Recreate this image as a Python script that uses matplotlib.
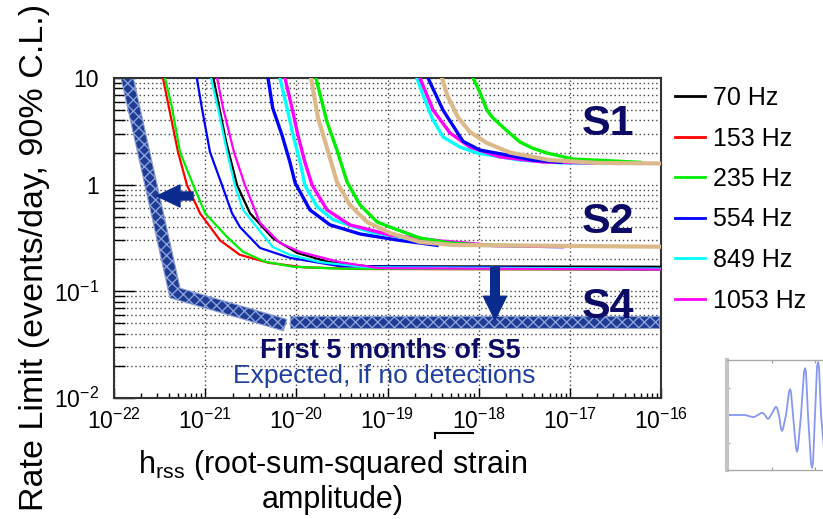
import numpy as np
import matplotlib
matplotlib.use("Agg")
import matplotlib.pyplot as plt
from matplotlib.lines import Line2D
from matplotlib.patches import Polygon, FancyArrowPatch, ArrowStyle

plt.rcParams['font.family'] = ['Liberation Sans', 'DejaVu Sans']
plt.rcParams['mathtext.fontset'] = 'custom'
plt.rcParams['mathtext.rm'] = 'Liberation Sans'
plt.rcParams['mathtext.it'] = 'Liberation Sans:italic'
plt.rcParams['mathtext.bf'] = 'Liberation Sans:bold'
plt.rcParams['hatch.linewidth'] = 1.0

# ---------------- data ----------------
# S4 run (lowest plateau)
s4_70_h = [1.23e-21, 1.7e-21, 2.24e-21, 3.1e-21, 5.5e-21, 1.02e-20, 2.3e-20, 6e-20, 1e-16]
s4_70_r = [10, 2.51, 0.99, 0.54, 0.316, 0.229, 0.188, 0.172, 0.17]
s4_153_h = [3.44e-22, 5.04e-22, 6.32e-22, 8.77e-22, 1.46e-21, 2.4e-21, 5e-21, 1.2e-20, 5e-20, 1e-16]
s4_153_r = [10, 2.02, 0.99, 0.54, 0.30, 0.22, 0.185, 0.168, 0.162, 0.16]
s4_235_h = [3.63e-22, 4.33e-22, 5.3e-22, 7.4e-22, 1.0e-21, 1.74e-21, 2.6e-21, 4.5e-21, 9.2e-21, 3e-20, 1e-16]
s4_235_r = [10, 5.24, 2.02, 0.99, 0.54, 0.323, 0.235, 0.19, 0.17, 0.163, 0.16]
s4_554_h = [8.1e-22, 9.2e-22, 1.13e-21, 1.53e-21, 1.97e-21, 2.41e-21, 4.0e-21, 8.5e-21, 3.0e-20, 1e-16]
s4_554_r = [10, 5.24, 2.02, 0.99, 0.54, 0.40, 0.255, 0.206, 0.172, 0.163]
s4_849_h = [1.16e-21, 1.38e-21, 1.74e-21, 2.12e-21, 2.6e-21, 5.5e-21, 8.5e-21, 1.8e-20, 6e-20, 1e-16]
s4_849_r = [10, 5.24, 2.02, 0.99, 0.58, 0.26, 0.22, 0.188, 0.168, 0.163]
s4_1053_h = [1.35e-21, 1.57e-21, 2.07e-21, 2.73e-21, 3.99e-21, 6.6e-21, 1.1e-20, 3.0e-20, 8e-20, 1e-16]
s4_1053_r = [10, 5.24, 2.02, 0.99, 0.44, 0.284, 0.234, 0.188, 0.165, 0.16]

# S2 run
s2_554_h = [4.89e-21, 5.5e-21, 6.96e-21, 8.5e-21, 9.7e-21, 1.41e-20, 2.34e-20, 5.0e-20, 1.38e-19, 3.5e-19]
s2_554_r = [10, 5.24, 2.92, 1.63, 1.04, 0.58, 0.42, 0.345, 0.30, 0.27]
s2_849_h = [6.6e-21, 7.9e-21, 9.2e-21, 1.1e-20, 1.24e-20, 1.69e-20, 2.52e-20, 6.4e-20, 2.3e-19, 1e-18, 8e-18]
s2_849_r = [10, 5.24, 2.92, 1.63, 0.99, 0.62, 0.47, 0.36, 0.30, 0.27, 0.262]
s2_1053_h = [7.5e-21, 8.96e-21, 1.04e-20, 1.24e-20, 1.49e-20, 2.17e-20, 3.87e-20, 1.07e-19, 3.77e-19, 1.5e-18, 8.4e-18]
s2_1053_r = [10, 5.24, 2.92, 1.63, 0.99, 0.58, 0.42, 0.337, 0.297, 0.268, 0.262]
s2_235_h = [1.64e-20, 2.17e-20, 2.79e-20, 3.6e-20, 5.0e-20, 7.7e-20, 1.07e-19, 2.27e-19, 4.8e-19, 1.04e-18, 3e-18]
s2_235_r = [10, 3.87, 2.11, 1.06, 0.645, 0.447, 0.40, 0.316, 0.284, 0.272, 0.268]
s2_tan_h = [1.45e-20, 1.73e-20, 2.17e-20, 2.79e-20, 3.87e-20, 5.96e-20, 1.07e-19, 2.27e-19, 5.2e-19, 1e-16]
s2_tan_r = [10, 4.22, 2.21, 1.06, 0.645, 0.447, 0.352, 0.29, 0.272, 0.262]

# S1 run
s1_849_h = [2.10e-19, 2.45e-19, 3.08e-19, 4.06e-19, 6.24e-19, 9.6e-19, 2.84e-18, 8e-18, 2.5e-17]
s1_849_r = [10, 6.93, 4.22, 2.80, 2.25, 1.98, 1.70, 1.60, 1.58]
s1_1053_h = [2.27e-19, 3.16e-19, 4.85e-19, 8.03e-19, 1.71e-18, 5.07e-18, 3.5e-17]
s1_1053_r = [10, 5.01, 3.05, 2.25, 1.82, 1.63, 1.58]
s1_554_h = [2.78e-19, 4.06e-19, 6.73e-19, 1.03e-18, 1.71e-18, 3.94e-18, 8e-18]
s1_554_r = [10, 5.01, 2.55, 2.11, 1.95, 1.70, 1.62]
s1_235_h = [8.67e-19, 1.03e-18, 1.23e-18, 1.4e-18, 2.0e-18, 2.84e-18, 3.9e-18, 5.61e-18, 1.08e-17, 5.9e-17]
s1_235_r = [10, 7.39, 5.01, 4.31, 3.25, 2.51, 2.2, 1.98, 1.74, 1.62]
s1_tan_h = [3.96e-19, 4.5e-19, 5.9e-19, 8.0e-19, 1.23e-18, 2.2e-18, 6.05e-18, 2e-17, 1e-16]
s1_tan_r = [10, 6.93, 4.31, 3.12, 2.46, 2.0, 1.70, 1.60, 1.58]

# S5 expected band (center line)
band_slope_h = [1.26e-22, 4.67e-22, 7.52e-21]
band_slope_r = [14.8, 0.0964, 0.0483]
band_flat_h = [8.5e-21, 9.6e-17]
band_flat_r = [0.0516, 0.0516]

# arrows (tail, tip)
arrow_left_h = [7.36e-22, 2.96e-22]
arrow_left_r = [0.783, 0.783]
arrow_down_h = [1.51e-18, 1.51e-18]
arrow_down_r = [0.167, 0.054]

legend_labels = ['70 Hz', '153 Hz', '235 Hz', '554 Hz', '849 Hz', '1053 Hz']
legend_colors = ['#000000', '#ff0000', '#00ee00', '#0000ff', '#00ffff', '#ff00ff']

x_ticks = [1e-22, 1e-21, 1e-20, 1e-19, 1e-18, 1e-17, 1e-16]
x_tick_labels = [r'$\mathdefault{10^{-22}}$', r'$\mathdefault{10^{-21}}$', r'$\mathdefault{10^{-20}}$',
                 r'$\mathdefault{10^{-19}}$', r'$\mathdefault{10^{-18}}$', r'$\mathdefault{10^{-17}}$',
                 r'$\mathdefault{10^{-16}}$']
y_ticks = [1e-2, 1e-1, 1, 10]
y_tick_labels = [r'$\mathdefault{10^{-2}}$', r'$\mathdefault{10^{-1}}$', '1', '10']

# inset waveform
inset_t = [0, 18, 24, 26, 28, 31, 34, 35, 36, 38, 40, 41, 42, 44, 48, 49, 50, 52, 54, 55, 56, 59,
           62, 63, 64, 66, 69, 70, 71, 74, 77, 78, 79, 81, 84, 85, 86, 88, 90, 91, 92, 94, 97]
inset_amp = [0, 0, -0.03, -0.04, -0.03, 0.0, 0.035, 0.04, 0.035, 0.0, -0.06, -0.07, -0.06, 0.0,
             0.13, 0.15, 0.13, 0.0, -0.25, -0.29, -0.25, 0.0, 0.42, 0.47, 0.42, 0.0, -0.6, -0.67,
             -0.6, 0.0, 0.78, 0.85, 0.78, 0.0, -0.88, -0.96, -0.88, 0.0, 0.88, 0.96, 0.88, 0.0, -0.6]

# ---------------- figure ----------------
W, H = 823, 519
fig = plt.figure(figsize=(W / 100, H / 100), dpi=100)
L, R, T, B = 114, 661, 78, 398
ax = fig.add_axes([L / W, 1 - B / H, (R - L) / W, (B - T) / H])
ax.set_xscale('log')
ax.set_yscale('log')
ax.set_xlim(1e-22, 1e-16)
ax.set_ylim(1e-2, 10)

ax.set_xticks(x_ticks)
ax.set_xticklabels(x_tick_labels, fontsize=16.5)
ax.set_yticks(y_ticks)
ax.set_yticklabels(y_tick_labels, fontsize=16.5)
ax.tick_params(axis='x', which='major', direction='in', length=7, width=1, pad=8, bottom=True, top=False)
ax.tick_params(axis='x', which='minor', direction='in', length=3.6, width=1, bottom=True, top=False)
ax.tick_params(axis='y', which='major', direction='in', length=15, width=1, pad=11, left=True, right=False)
ax.tick_params(axis='y', which='minor', direction='in', length=8, width=1, left=True, right=False)
ax.yaxis.set_minor_formatter(matplotlib.ticker.NullFormatter())
ax.xaxis.set_minor_formatter(matplotlib.ticker.NullFormatter())
for s in ax.spines.values():
    s.set_color('#333333')
    s.set_linewidth(1.5)
ax.grid(True, which='major', axis='both', linestyle=(0, (1, 2)), color='#444444', linewidth=1)
ax.grid(True, which='minor', axis='y', linestyle=(0, (1, 2)), color='#444444', linewidth=1)
ax.set_axisbelow(True)

# S5 expected band as hatched polygons
def band_polygon(hs, rs, half_px):
    pts = ax.transData.transform(np.column_stack([hs, rs]))
    d = np.diff(pts, axis=0)
    d = d / np.linalg.norm(d, axis=1)[:, None]
    nrm = np.column_stack([-d[:, 1], d[:, 0]])
    left, right = [], []
    n = len(pts)
    for i in range(n):
        if i == 0:
            off = nrm[0]
        elif i == n - 1:
            off = nrm[-1]
        else:
            m = nrm[i - 1] + nrm[i]
            m = m / np.linalg.norm(m)
            off = m / np.dot(m, nrm[i])
        left.append(pts[i] + off * half_px)
        right.append(pts[i] - off * half_px)
    poly = np.array(left + right[::-1])
    return ax.transData.inverted().transform(poly)

for hs, rs in [(band_slope_h, band_slope_r), (band_flat_h, band_flat_r)]:
    p = Polygon(band_polygon(hs, rs, 6.0), closed=True, facecolor='#1f3c94',
                edgecolor='#8b9fd8', hatch='xxx', linewidth=0.8, zorder=2)
    ax.add_patch(p)

c_black, c_red, c_green, c_blue, c_cyan, c_mag = legend_colors
c_tan = '#dbb98b'

# S4 curves
lw4 = 1.6
ax.plot(s4_70_h, s4_70_r, color=c_black, lw=lw4, zorder=3)
ax.plot(s4_153_h, s4_153_r, color=c_red, lw=lw4, zorder=3)
ax.plot(s4_235_h, s4_235_r, color=c_green, lw=lw4, zorder=3)
ax.plot(s4_554_h, s4_554_r, color=c_blue, lw=lw4, zorder=3)
ax.plot(s4_849_h, s4_849_r, color=c_cyan, lw=lw4, zorder=3)
ax.plot(s4_1053_h, s4_1053_r, color=c_mag, lw=lw4, zorder=3)

# S2 curves
lw2 = 2.4
ax.plot(s2_554_h, s2_554_r, color=c_blue, lw=lw2, zorder=3)
ax.plot(s2_849_h, s2_849_r, color=c_cyan, lw=lw2, zorder=3)
ax.plot(s2_1053_h, s2_1053_r, color=c_mag, lw=lw2, zorder=3)
ax.plot(s2_235_h, s2_235_r, color=c_green, lw=lw2, zorder=3)
ax.plot(s2_tan_h, s2_tan_r, color=c_tan, lw=3.0, zorder=3)

# S1 curves
ax.plot(s1_849_h, s1_849_r, color=c_cyan, lw=lw2, zorder=3)
ax.plot(s1_1053_h, s1_1053_r, color=c_mag, lw=lw2, zorder=3)
ax.plot(s1_554_h, s1_554_r, color=c_blue, lw=lw2, zorder=3)
ax.plot(s1_235_h, s1_235_r, color=c_green, lw=lw2, zorder=3)
ax.plot(s1_tan_h, s1_tan_r, color=c_tan, lw=3.0, zorder=3)

# arrows
navy_arrow = '#0b2a8e'
ax.add_patch(FancyArrowPatch((arrow_left_h[0], arrow_left_r[0]), (arrow_left_h[1], arrow_left_r[1]),
                             arrowstyle=ArrowStyle.Simple(head_length=1.66, head_width=1.58, tail_width=0.58),
                             mutation_scale=10, color=navy_arrow, shrinkA=0, shrinkB=0, zorder=5))
ax.add_patch(FancyArrowPatch((arrow_down_h[0], arrow_down_r[0]), (arrow_down_h[1], arrow_down_r[1]),
                             arrowstyle=ArrowStyle.Simple(head_length=1.7, head_width=1.66, tail_width=0.62),
                             mutation_scale=10, color=navy_arrow, shrinkA=0, shrinkB=0, zorder=5))

# run labels
navy = '#0c0c66'
def axfrac(px, py):
    return (px - L) / (R - L), (B - py) / (B - T)
for txt, py in [('S1', 135), ('S2', 233), ('S4', 318)]:
    fx, fy = axfrac(582, py)
    ax.text(fx, fy, txt, transform=ax.transAxes, fontsize=31, fontweight='bold',
            color=navy, ha='left', va='baseline', zorder=6)
fx, fy = axfrac(390, 358)
ax.text(fx, fy, 'First 5 months of S5', transform=ax.transAxes, fontsize=19.5, fontweight='bold',
        color=navy, ha='center', va='baseline', zorder=6)
fx, fy = axfrac(384, 383)
ax.text(fx, fy, 'Expected, if no detections', transform=ax.transAxes, fontsize=19,
        color='#1f3ea0', ha='center', va='baseline', zorder=6, clip_on=False)

# legend
handles = [Line2D([], [], color=c, lw=2) for c in legend_colors]
fig.legend(handles, legend_labels, loc='upper left', bbox_to_anchor=(675 / W, 1 - 86 / H),
           bbox_transform=fig.transFigure, frameon=False, fontsize=18, handlelength=1.2,
           handletextpad=0.32, labelspacing=0.66, borderpad=0, borderaxespad=0)

# axis titles
fig.text(35 / W, 1 - 257 / H, 'Rate Limit (events/day, 90% C.L.)', rotation=90,
         fontsize=24.5, ha='center', va='center')
fig.text(333 / W, 1 - 448 / H, 'h$_{\\mathdefault{rss}}$ (root-sum-squared strain\namplitude)',
         fontsize=22, ha='center', va='top', multialignment='center', linespacing=1.12)

# small bracket mark under the 10^-18 label
fig.add_artist(Line2D([435 / W, 473 / W], [1 - 433 / H, 1 - 433 / H], color='black', lw=1.5,
                      transform=fig.transFigure))
fig.add_artist(Line2D([435 / W, 435 / W], [1 - 433 / H, 1 - 438 / H], color='black', lw=1.5,
                      transform=fig.transFigure))

# inset waveform
axi = fig.add_axes([727 / W, 1 - 470 / H, (860 - 727) / W, 110 / H])
axi.plot(inset_t, inset_amp, color='#8797f2', lw=1.3)
axi.set_xlim(0, 133)
axi.set_ylim(-1, 1)
axi.set_xticks([45, 88])
axi.set_yticks([-0.5, 0, 0.5])
axi.set_xticklabels([])
axi.set_yticklabels([])
axi.tick_params(direction='in', length=2, width=0.8, color='#999999', top=True)
for s in axi.spines.values():
    s.set_color('#aaaaaa')
    s.set_linewidth(1)
axi.spines['left'].set_linewidth(3)
axi.spines['left'].set_color('#c4c4c4')

fig.savefig('out.png', dpi=100)
